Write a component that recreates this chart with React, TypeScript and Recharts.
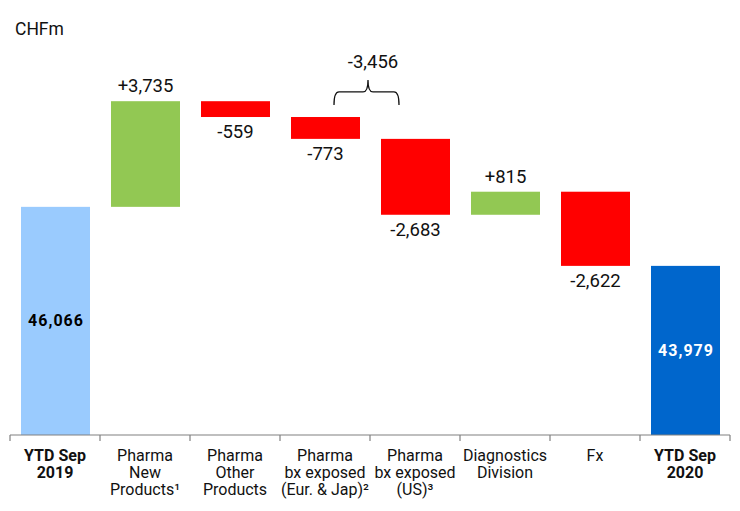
import React from 'react';
import { BarChart, Bar, XAxis, YAxis, ReferenceDot } from 'recharts';

// CHFm, Jan-Sep sales bridge
const categories = [
  'YTD Sep 2019',
  'Pharma New Products',
  'Pharma Other Products',
  'Pharma bx exposed (Eur. & Jap)',
  'Pharma bx exposed (US)',
  'Diagnostics Division',
  'Fx',
  'YTD Sep 2020',
];
const tickLines = [
  ['YTD Sep', '2019'],
  ['Pharma', 'New', 'Products¹'],
  ['Pharma', 'Other', 'Products'],
  ['Pharma', 'bx exposed', '(Eur. & Jap)²'],
  ['Pharma', 'bx exposed', '(US)³'],
  ['Diagnostics', 'Division'],
  ['Fx'],
  ['YTD Sep', '2020'],
];
const changes = [46066, 3735, -559, -773, -2683, 815, -2622, 43979];
const kinds = ['total', 'delta', 'delta', 'delta', 'delta', 'delta', 'delta', 'total'];
const bracketGroup = [3, 4];

const AXIS_MIN = 38000;
const AXIS_MAX = 52000;
const BRACKET_Y = 50130;

const W = 724;
const H = 503;
const MARGIN = { top: 31, right: 2, bottom: 0, left: 2 };
const BAND = (W - MARGIN.left - MARGIN.right) / categories.length;
const FONT = 'Roboto, "Noto Sans", sans-serif';

const fmt = (v: number) => v.toLocaleString('en-US');
const signed = (v: number) => (v > 0 ? '+' : '-') + fmt(Math.abs(v));

let running = 0;
const data = categories.map((name, i) => {
  const v = changes[i];
  let color: string;
  let range: number[];
  if (kinds[i] === 'total') {
    running = v;
    range = [AXIS_MIN, v];
    color = i === 0 ? '#9ACBFE' : '#0066CC';
  } else {
    const start = running;
    running += v;
    range = [Math.min(start, running), Math.max(start, running)];
    color = v > 0 ? '#92C853' : '#FF0000';
  }
  return { name, range, value: v, kind: kinds[i], color, index: i };
});

const bracketTotal = bracketGroup.reduce((s, i) => s + changes[i], 0);

const BarShape = (props: any) => {
  const { x, y, width, height, payload } = props;
  const top = Math.min(y, y + height);
  const h = Math.abs(height);
  const cx = x + width / 2;
  let label;
  if (payload.kind === 'total') {
    label = (
      <text x={cx + 0.5} y={top + h / 2} textAnchor="middle" dominantBaseline="central"
        fontFamily={FONT} fontSize={16} fontWeight={700} letterSpacing={1}
        fill={payload.index === 0 ? '#000' : '#fff'}>
        {fmt(payload.value)}
      </text>
    );
  } else if (payload.value > 0) {
    label = (
      <text x={cx} y={top - 15} textAnchor="middle" dominantBaseline="central"
        fontFamily={FONT} fontSize={18.5} fill="#111">
        {signed(payload.value)}
      </text>
    );
  } else {
    label = (
      <text x={cx} y={top + h + 15} textAnchor="middle" dominantBaseline="central"
        fontFamily={FONT} fontSize={18.5} fill="#111">
        {signed(payload.value)}
      </text>
    );
  }
  return (
    <g>
      <rect x={x} y={top} width={width} height={h} fill={payload.color} />
      {label}
    </g>
  );
};

const CategoryTick = (props: any) => {
  const { x, y, payload } = props;
  const i = payload.index;
  const lines = tickLines[i] || [];
  const bold = kinds[i] === 'total';
  const half = BAND / 2;
  return (
    <g>
      <line x1={x - half} x2={x - half} y1={y} y2={y + 6} stroke="#808080" strokeWidth={1.2} />
      {i === categories.length - 1 && (
        <line x1={x + half} x2={x + half} y1={y} y2={y + 6} stroke="#808080" strokeWidth={1.2} />
      )}
      <text x={x} y={y + 26} textAnchor="middle" fontFamily={FONT} fontSize={16}
        fontWeight={bold ? 700 : 400} fill="#111">
        {lines.map((l, k) => (
          <tspan key={k} x={x} dy={k === 0 ? 0 : 17}>{l}</tspan>
        ))}
      </text>
    </g>
  );
};

const Bracket = (props: any) => {
  const { cx, cy } = props;
  const mid = cx + BAND / 2 - 2;
  const L = mid - 34;
  const R = mid + 31;
  const d = `M ${L} ${cy + 13} Q ${L} ${cy} ${L + 5} ${cy} L ${mid - 5} ${cy} Q ${mid} ${cy} ${mid} ${cy - 12}` +
    ` Q ${mid} ${cy} ${mid + 5} ${cy} L ${R - 5} ${cy} Q ${R} ${cy} ${R} ${cy + 13}`;
  return (
    <g>
      <path d={d} fill="none" stroke="#111" strokeWidth={1.3} />
      <text x={mid + 5} y={cy - 30} textAnchor="middle" dominantBaseline="central"
        fontFamily={FONT} fontSize={18.5} fill="#111">
        {signed(bracketTotal)}
      </text>
    </g>
  );
};

export default function App() {
  return (
    <div style={{ position: 'relative', width: W, height: H }}>
      <BarChart width={W} height={H} data={data} margin={MARGIN} barSize={69}>
        <text x={7} y={27} fontFamily={FONT} fontSize={17.5} fill="#111">CHFm</text>
        <XAxis dataKey="name" height={76} interval={0} tickSize={0} tickMargin={0}
          tickLine={false} axisLine={{ stroke: '#808080', strokeWidth: 1.2 }} tick={<CategoryTick />} />
        <YAxis hide domain={[AXIS_MIN, AXIS_MAX]} allowDataOverflow />
        <Bar dataKey="range" isAnimationActive={false} shape={<BarShape />} />
        <ReferenceDot x={categories[bracketGroup[0]]} y={BRACKET_Y} shape={<Bracket />} />
      </BarChart>
    </div>
  );
}
